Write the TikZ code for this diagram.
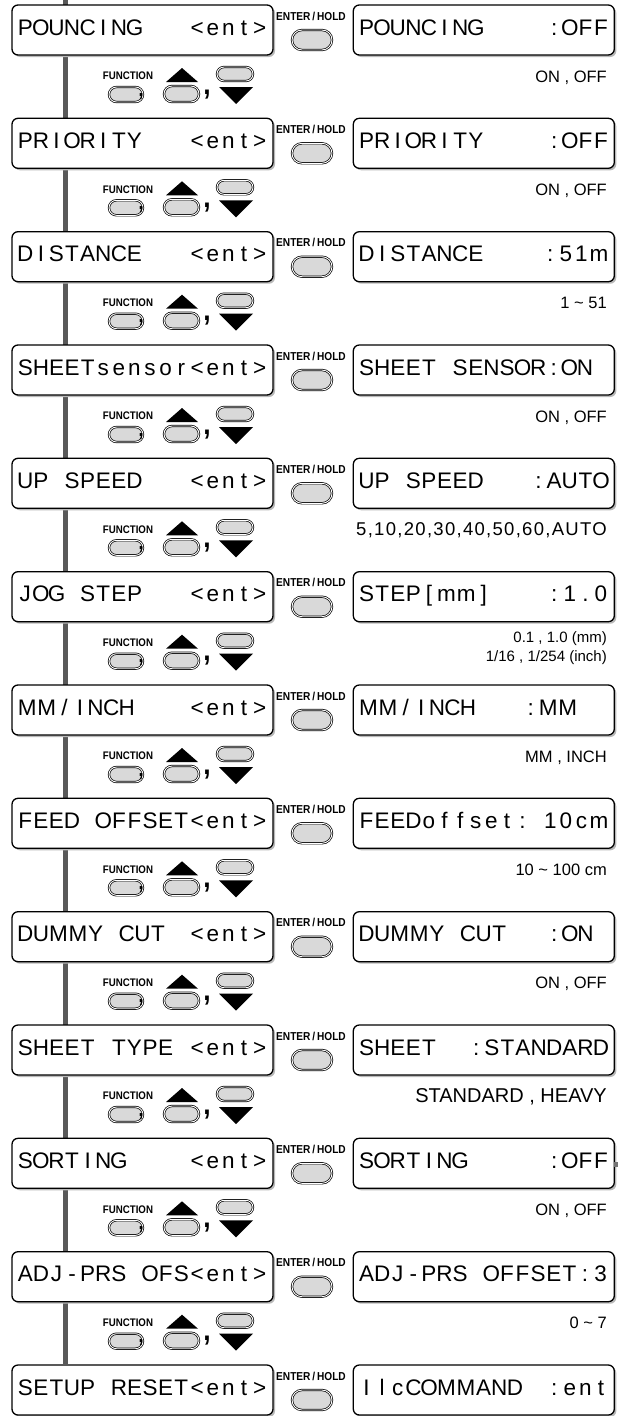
\documentclass[tikz,border=0pt]{standalone}
\usepackage{fontspec}
\setmainfont{Liberation Sans}
\newfontfamily\lcdfont{Liberation Sans}
\newfontfamily\keyfont[FakeStretch=0.88]{Liberation Sans Bold}
\usetikzlibrary{positioning,shadows,shapes.misc,backgrounds}

% one display character per cell, ~ is an empty cell
\newlength\lcdcell
\setlength\lcdcell{15.6pt}
\newcommand\lcdchar[1]{\setbox0\hbox{#1}%
  \ifdim\wd0>\dimexpr\lcdcell+2pt\relax
    \hbox to\dimexpr\wd0+0.8pt\relax{\hss#1\hss}%
  \else\hbox to\lcdcell{\hss#1\hss}\fi}
\def\lcdloop#1{\ifx#1\relax\else
  \ifx#1~\hbox to\lcdcell{}\else\lcdchar{#1}\fi
  \expandafter\lcdloop\fi}
\newcommand\lcd[2]{\hbox to 250pt{\lcdloop#1\relax\hfill\lcdloop#2\relax}}

% [option style]{name}{top}{menu left}{menu right}{value left}{value right}{options}
\newcommand\menurow[8][]{%
  \node[lcd] (#2-set) at (142.5,#3+25) {\lcd{#4}{#5}};
  \node[lcd, right=79pt of #2-set] (#2-val) {\lcd{#6}{#7}};
  \pic (#2-ent) at (0,#3) {enterkey};
  \node[opts, #1] (#2-opt) at (607,#3+77) {#8};
  \pic (#2-keys) at (0,#3) {fnkeys};
}

\begin{document}
\begin{tikzpicture}[x=1pt, y=-1pt,
    lcd/.style={draw, line width=1.3pt, rounded corners=6pt, fill=white,
                minimum width=261pt, minimum height=50pt, inner sep=0pt,
                text height=16.7pt, text depth=6.7pt,
                font=\lcdfont\fontsize{22.5}{24}\selectfont,
                drop shadow={shadow xshift=2pt, shadow yshift=-2pt,
                             fill=black!28, opacity=1}},
    btn/.style={rounded rectangle, draw, line width=0.7pt, double=white,
                double distance=0.9pt, fill=black!15, inner sep=0pt},
    keylbl/.style={inner sep=0pt, font=\keyfont\fontsize{11}{11}\selectfont},
    tick/.style={anchor=base, inner sep=0pt, font=\keyfont\fontsize{30}{30}\selectfont},
    opts/.style={anchor=base east, inner sep=0pt, align=right,
                 font=\fontsize{16.5}{19}\selectfont},
    spine/.style={line width=5pt, black!65},
    pics/enterkey/.style={code={
      \node[keylbl, font=\keyfont\fontsize{11.5}{11.5}\selectfont] (-lbl) at (311,11) {ENTER\,/\,HOLD};
      \node[btn, minimum width=40pt, minimum height=20pt] (-btn) at (312,35) {};
    }},
    pics/fnkeys/.style={code={
      \node[keylbl] (-lbl) at (128,71) {FUNCTION};
      \node[btn, minimum width=34pt, minimum height=15pt] (-fn) at (126,89.5) {};
      \node[tick, font=\keyfont\fontsize{20}{20}\selectfont] (-fntick) at (141,91) {,};
      \fill (166,77) -- (198,77) -- (182,63) -- cycle;
      \node[btn, minimum width=35pt, minimum height=16pt] (-up) at (181.5,89) {};
      \node[tick] (-comma) at (207,89) {,};
      \node[btn, minimum width=36pt, minimum height=14pt] (-down) at (235,69) {};
      \fill (219,82) -- (253,82) -- (236,99) -- cycle;
    }}]
  \useasboundingbox (0,0) rectangle (621,1416);
  \coordinate (spine top) at (65,0);

  \menurow{r0}{5}{POUNCING}{<ent>}{POUNCING}{:OFF}{ON , OFF}
  \menurow{r1}{118.3}{PRIORITY}{<ent>}{PRIORITY}{:OFF}{ON , OFF}
  \menurow{r2}{231.7}{DISTANCE}{<ent>}{DISTANCE}{:51m}{1 \textasciitilde\ 51}
  \menurow{r3}{345}{SHEETsensor}{<ent>}{SHEET~SENSOR:ON}{}{ON , OFF}
  \menurow[font={\fontsize{18.5}{19}\selectfont\addfontfeature{LetterSpace=7}}]{r4}{458.3}{UP~SPEED}{<ent>}{UP~SPEED}{:AUTO}{5,10,20,30,40,50,60,AUTO}
  \menurow[yshift=-13pt, font=\fontsize{15}{19}\selectfont]{r5}{571.7}{JOG~STEP}{<ent>}{STEP[mm]}{:1.0}{0.1 , 1.0 (mm)\\1/16 , 1/254 (inch)}
  \menurow{r6}{685}{MM/INCH}{<ent>}{MM/INCH}{:MM~~}{MM , INCH}
  \menurow{r7}{798.3}{FEED~OFFSET}{<ent>}{FEEDoffset:}{10cm}{10 \textasciitilde\ 100 cm}
  \menurow{r8}{911.7}{DUMMY~CUT}{<ent>}{DUMMY~CUT}{:ON~}{ON , OFF}
  \menurow[font=\fontsize{20}{20}\selectfont]{r9}{1025}{SHEET~TYPE}{<ent>}{SHEET}{:STANDARD}{STANDARD , HEAVY}
  \menurow{r10}{1138.3}{SORTING}{<ent>}{SORTING}{:OFF}{ON , OFF}
  \menurow{r11}{1251.7}{ADJ-PRS~OFS}{<ent>}{ADJ-PRS~OFFSET:3}{}{0 \textasciitilde\ 7}

  \node[lcd] (r12-set) at (142.5,1390) {\lcd{SETUP~RESET}{<ent>}};
  \node[lcd, right=79pt of r12-set] (r12-val) {\lcd{IlcCOMMAND}{:ent}};
  \pic (r12-ent) at (0,1365) {enterkey};

  \fill[black!55] (614,1162) rectangle (618,1167);

  \begin{scope}[on background layer]
    \draw[spine] (spine top) -- (spine top |- r12-set.north);
  \end{scope}
\end{tikzpicture}
\end{document}
